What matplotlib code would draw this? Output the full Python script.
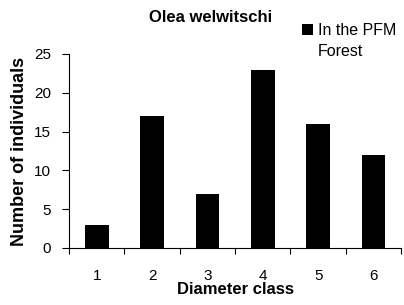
import numpy as np
import matplotlib.pyplot as plt
from matplotlib.ticker import FixedLocator, NullFormatter

plt.rcParams['font.family'] = ['Liberation Sans', 'DejaVu Sans']

# data
classes = ['1', '2', '3', '4', '5', '6']
counts = [3, 17, 7, 23, 16, 12]
legend_lines = ['In the PFM', 'Forest']

fig = plt.figure(figsize=[4.04, 3.05], dpi=100)
ax = fig.add_axes([0.171, 0.187, 0.822, 0.636])

x = np.arange(1, len(classes) + 1)
ax.bar(x, counts, width=0.43, color='black', label=legend_lines[0])

ax.set_xlim(0.5, len(classes) + 0.5)
ax.set_ylim(0, 25)
ax.set_yticks([0, 5, 10, 15, 20, 25])

# ticks between the categories, labels under the bars
ax.xaxis.set_major_locator(FixedLocator(np.arange(0.5, len(classes) + 1, 1)))
ax.xaxis.set_major_formatter(NullFormatter())
ax.xaxis.set_minor_locator(FixedLocator(x))
ax.set_xticklabels(classes, minor=True)
ax.tick_params(axis='x', which='major', direction='out', length=4, width=0.8)
ax.tick_params(axis='x', which='minor', length=0, pad=15, labelsize=11)
ax.tick_params(axis='y', direction='out', length=5, width=0.8, labelsize=11, pad=8)

for s in ['top', 'right']:
    ax.spines[s].set_visible(False)

ax.set_xlabel('Diameter class', fontsize=12, fontweight='bold')
ax.xaxis.set_label_coords(0.5, -0.175)
ax.set_ylabel('Number of individuals', fontsize=13, fontweight='bold')
ax.yaxis.set_label_coords(-0.125, 0.5)

fig.text(0.52, 0.944, 'Olea welwitschi', ha='center', va='center',
         fontsize=12, fontweight='bold')

# legend: square beside first line, second line wrapped underneath
leg = fig.legend(loc='upper left', bbox_to_anchor=(0.748, 0.925), frameon=False,
                 fontsize=11.5, handlelength=0.7, handleheight=0.7,
                 handletextpad=0.3, borderpad=0, borderaxespad=0)
fig.canvas.draw()
bb = leg.get_texts()[0].get_window_extent().transformed(fig.transFigure.inverted())
fig.text(bb.x0, (bb.y0 + bb.y1) / 2 - 21 / 305, legend_lines[1],
         ha='left', va='center', fontsize=11.5)

plt.savefig('out.png', dpi=100)
